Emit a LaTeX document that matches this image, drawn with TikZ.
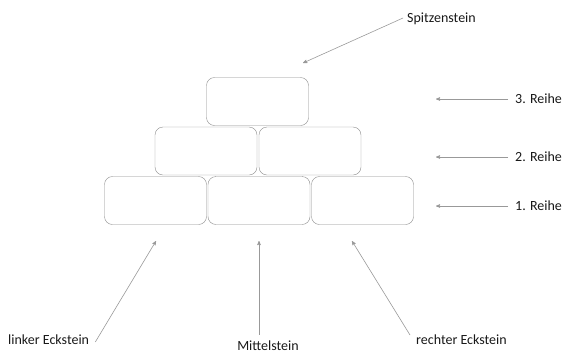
\documentclass[tikz,border=0pt]{standalone}
\usepackage{fontspec}
\setmainfont{Carlito}
\usepackage{xcolor}
\usepackage{tikz}
\usetikzlibrary{calc}
\usetikzlibrary{arrows}

\begin{document}
\begin{tikzpicture} [x=1pt, y=-1pt,
    brick/.style = {draw=black!45, rounded corners=8pt, minimum width=102pt, minimum height=48pt, inner sep=0},
    lbl/.style = {font=\fontsize{14}{16}\selectfont, text=black!90, inner sep=0},
    pfeil/.style = {black!40, line width=.6pt, ->, >=stealth'}]
    \useasboundingbox (0,0) rectangle (562,354);
    % Steine
    \foreach \x [count=\i] in {155.5,259,362.5} {
    \node[brick] (r1-\i) at (\x,200.5) {};
    }
    \foreach \x [count=\i] in {206,310} {
    \node[brick] (r2-\i) at (\x,151) {};
    }
    \node[brick] (r3-1) at (257.5,101.5) {};
    % Reihen
    \foreach \y/\n in {99/3, 157/2, 206/1} {
    \node[lbl, anchor=west] (reihe\n) at (515,\y) {\n. Reihe};
    \coordinate (reihe\n-tip) at (436,\y);
    \draw[pfeil] ([xshift=-7pt]reihe\n.west) -- (reihe\n-tip);
    }
    % Spitze
    \node[lbl, anchor=west] (spitze) at (407,19) {Spitzenstein};
    \coordinate (spitze-tip) at (303,63);
    \draw[pfeil] ([xshift=-4pt,yshift=1pt]spitze.west) -- (spitze-tip);
    % untere Steine
    \node[lbl, anchor=west] (linker) at (8,340) {linker Eckstein};
    \coordinate (linker-tip) at (156,241);
    \draw[pfeil] ([xshift=6pt,yshift=-2pt]linker.east) -- (linker-tip);
    \node[lbl] (mitte) at (268,346) {Mittelstein};
    \coordinate (mitte-tip) at (259,241);
    \draw[pfeil] (mitte.north -| mitte-tip) ++(0,-6) -- (mitte-tip);
    \node[lbl, anchor=west] (rechter) at (416,340) {rechter Eckstein};
    \coordinate (rechter-tip) at (352,241);
    \draw[pfeil] ([xshift=-6pt,yshift=5pt]rechter.west) -- (rechter-tip);
\end{tikzpicture}
\end{document}
